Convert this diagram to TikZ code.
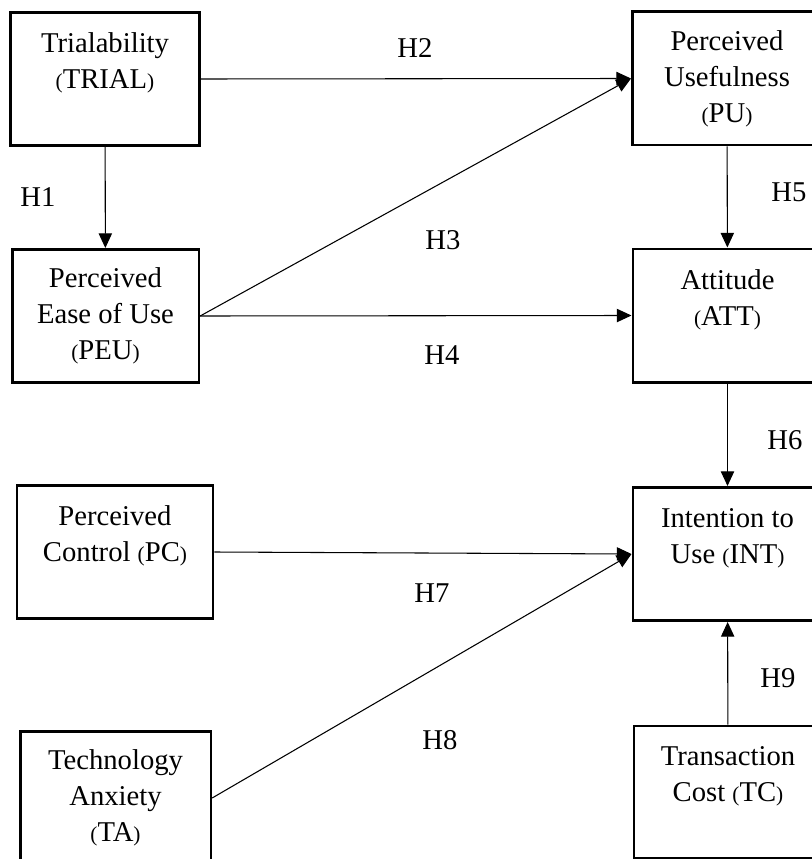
\documentclass[tikz,border=0pt]{standalone}
\usepackage{fontspec}
\setmainfont{Liberation Serif}
\usetikzlibrary{arrows.meta}
\newcommand{\abbrev}[1]{{\fontsize{16}{27}\selectfont(}#1{\fontsize{16}{27}\selectfont)}}
\begin{document}
\begin{tikzpicture}[x=0.75pt,y=-0.75pt,
  box/.style={draw, line width=2pt, rectangle, align=center, inner sep=0pt,
    minimum width=142pt, minimum height=100pt,
    font=\fontsize{21.5}{27}\selectfont},
  hyp/.style={font=\fontsize{21.5}{27}\selectfont},
  link/.style={line width=0.8pt, -{Triangle[length=11pt,width=10pt]}}]
  \useasboundingbox (0,0) rectangle (812,859);
  \node[box] (TRIAL) at (105,79) {Trialability\\\abbrev{TRIAL}\\\mbox{}};
  \node[box] (PU) at (727,78.5) {Perceived\\Usefulness\\\abbrev{PU}};
  \node[box, minimum width=140pt] (PEU) at (105.5,316) {Perceived\\Ease of Use\\\abbrev{PEU}};
  \node[box] (ATT) at (727.5,315.5) {Attitude\\\abbrev{ATT}\\\mbox{}};
  \node[box, minimum width=147pt] (PC) at (115,552) {Perceived\\Control \abbrev{PC}\\\mbox{}};
  \node[box] (INT) at (727.5,554) {Intention to\\Use \abbrev{INT}\\\mbox{}};
  \node[box, minimum width=143pt] (TA) at (115.5,798) {Technology\\Anxiety\\\abbrev{TA}};
  \node[box, minimum width=141pt, minimum height=99pt] (TC) at (728,792) {Transaction\\Cost \abbrev{TC}\\\mbox{}};
  \node[hyp] (h1) at (38,197) {H1};
  \node[hyp] (h2) at (415,48) {H2};
  \node[hyp] (h3) at (443,240) {H3};
  \node[hyp] (h4) at (442,355) {H4};
  \node[hyp] (h5) at (789,192) {H5};
  \node[hyp] (h6) at (785,440) {H6};
  \node[hyp] (h7) at (432,593) {H7};
  \node[hyp] (h8) at (440,740) {H8};
  \node[hyp] (h9) at (778,678) {H9};
  \draw[link] (TRIAL) -- (PEU);
  \draw[link] (TRIAL.east) -- (PU.west);
  \draw[link] (PEU.east) -- (PU.west);
  \draw[link] (PEU.east) -- (ATT.west);
  \draw[link] (PU) -- (ATT);
  \draw[link] (ATT) -- (INT);
  \draw[link] (PC.east) -- (INT.west);
  \draw[link] (TA.east) -- (INT.west);
  \draw[link] (TC) -- (INT);
\end{tikzpicture}
\end{document}
